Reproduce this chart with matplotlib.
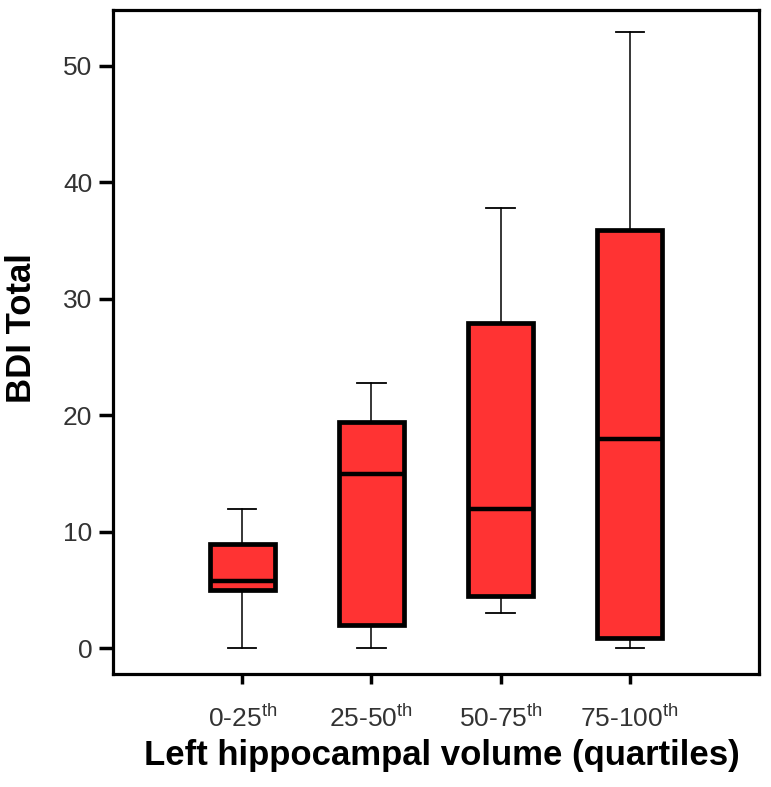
import matplotlib
matplotlib.use("Agg")
import matplotlib.pyplot as plt

plt.rcParams['font.family'] = ['Liberation Sans', 'DejaVu Sans']
plt.rcParams['mathtext.fontset'] = 'custom'
plt.rcParams['mathtext.rm'] = 'Liberation Sans'
plt.rcParams['mathtext.it'] = 'Liberation Sans'

categories = ["0-25$^{\\mathrm{th}}$", "25-50$^{\\mathrm{th}}$", "50-75$^{\\mathrm{th}}$", "75-100$^{\\mathrm{th}}$"]
whisker_low = [0, 0, 3, 0]
q1 = [5, 2, 4.5, 0.9]
median = [5.8, 15, 12, 18]
q3 = [9, 19.4, 27.9, 35.9]
whisker_high = [12, 22.8, 37.8, 52.9]
yticks = [0, 10, 20, 30, 40, 50]

stats = []
for i in range(len(categories)):
    stats.append(dict(whislo=whisker_low[i], q1=q1[i], med=median[i], q3=q3[i],
                      whishi=whisker_high[i], fliers=[], label=categories[i]))

fig = plt.figure(figsize=(7.71, 7.87), dpi=100)
ax = fig.add_axes([0.1466, 0.1436, 0.8378, 0.8437])

positions = list(range(1, len(categories) + 1))
ax.bxp(stats, positions=positions, widths=0.5, patch_artist=True, showfliers=False,
       boxprops=dict(facecolor='#FF3333', edgecolor='black', linewidth=3.4),
       medianprops=dict(color='black', linewidth=3.2),
       whiskerprops=dict(color='black', linewidth=1.1),
       capprops=dict(color='black', linewidth=1.3),
       capwidths=0.22)

ax.set_xlim(0, 5)
ax.set_ylim(-2.2, 54.8)
ax.set_yticks(yticks)
ax.set_yticklabels([str(t) for t in yticks])
ax.set_xticks(positions)
ax.set_xticklabels(categories)

for s in ax.spines.values():
    s.set_linewidth(2.3)
    s.set_color('black')

ax.tick_params(axis='y', length=10, width=2.5, direction='out', labelsize=19, pad=5,
               labelcolor='#333333')
ax.tick_params(axis='x', length=7, width=2.5, direction='out', labelsize=19, pad=15,
               labelcolor='#333333')

ax.set_ylabel("BDI Total", fontsize=25, fontweight='bold', va='center')
ax.yaxis.set_label_coords(-0.1416, 0.521)
ax.set_xlabel("Left hippocampal volume (quartiles)", fontsize=25, fontweight='bold',
              va='baseline')
ax.xaxis.set_label_coords(0.509, -0.137)

fig.savefig("out.png", dpi=100)
